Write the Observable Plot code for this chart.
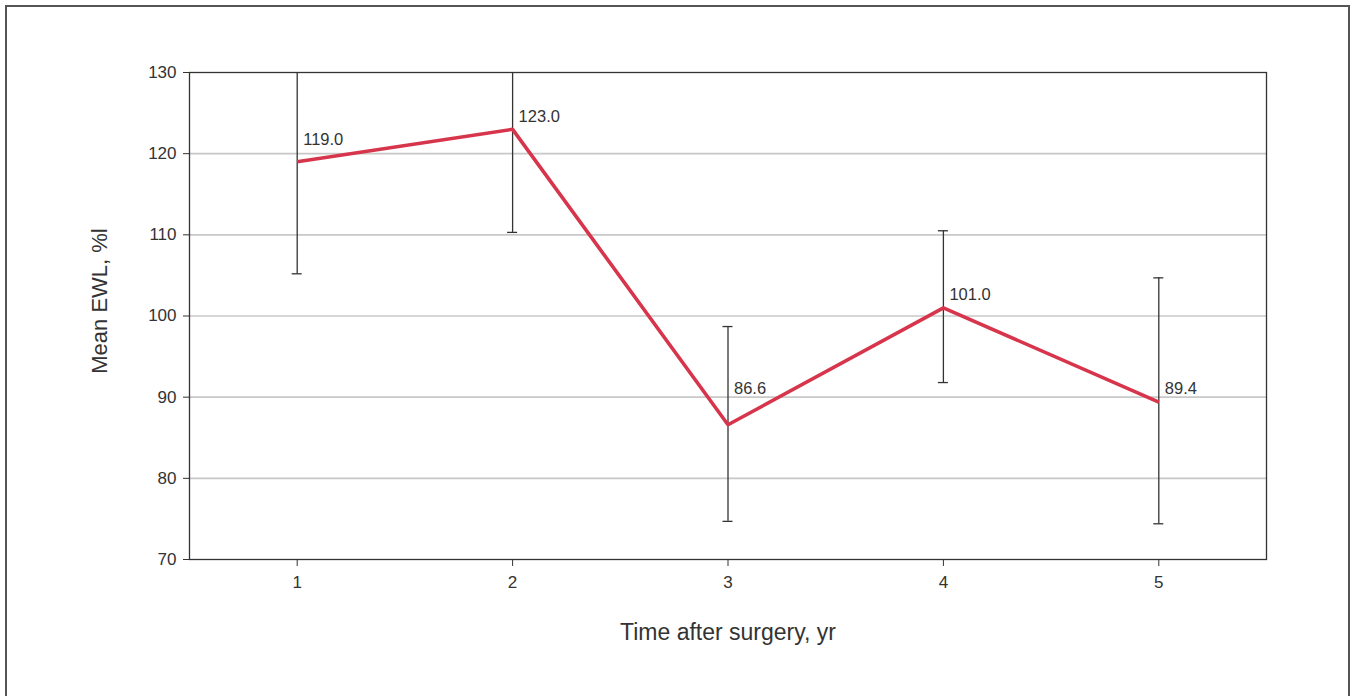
<!DOCTYPE html>
<html>
<head>
<meta charset="utf-8">
<script src="https://cdn.jsdelivr.net/npm/d3@7"></script>
<script src="https://cdn.jsdelivr.net/npm/@observablehq/plot@0.6"></script>
<style>
  html, body { margin: 0; padding: 0; background: #fff; overflow: hidden; }
  #wrap { position: relative; width: 1355px; height: 696px; }
  #outer { position: absolute; left: 5px; top: 5px; width: 1341px; height: 720px; border: 2px solid #555; pointer-events: none; }
  #chart { position: absolute; left: 0; top: 0; }
</style>
</head>
<body>
<div id="wrap">
  <div id="chart"></div>
  <div id="outer"></div>
</div>
<script>
const years = [1, 2, 3, 4, 5];
const means = [119.0, 123.0, 86.6, 101.0, 89.4];
const lows  = [105.2, 110.3, 74.7, 91.8, 74.4];
const highs = [132.8, 135.7, 98.7, 110.5, 104.7];
const yTicks = [70, 80, 90, 100, 110, 120, 130];
const xTicks = [1, 2, 3, 4, 5];
const gridValues = [80, 90, 100, 110, 120];
const xTitle = "Time after surgery, yr";
const yTitle = "Mean EWL, %l";

const data = years.map((year, i) => ({year, mean: means[i], low: lows[i], high: highs[i]}));

const red = "#d7354c";
const ink = "#333";
const font = "'Liberation Sans', Arial, Helvetica, sans-serif";

const labelOpts = {x: "year", y: "mean", text: d => d.mean.toFixed(1), dx: 6, textAnchor: "start", fontSize: 16.5, fill: ink};

const chart = Plot.plot({
  width: 1355,
  height: 696,
  marginLeft: 189,
  marginRight: 89,
  marginTop: 72,
  marginBottom: 137,
  style: {fontFamily: font, color: ink, background: "transparent"},
  x: {type: "linear", domain: [0.5, 5.5]},
  y: {domain: [70, 130]},
  marks: [
    Plot.ruleY(gridValues, {stroke: "#c8c8c8", strokeWidth: 1.6}),
    Plot.axisY({ticks: yTicks, tickSize: 6, tickPadding: 7, fontSize: 17, label: null, tickFormat: d => d}),
    Plot.axisX({ticks: xTicks, tickSize: 7, tickPadding: 9, fontSize: 17, label: null, tickFormat: d => d}),
    Plot.ruleX(data, {x: "year", y1: "low", y2: "high", stroke: ink, strokeWidth: 1.3, clip: true}),
    Plot.ruleY(data, {y: "low", x1: "year", x2: "year", insetLeft: -5, insetRight: -5, stroke: ink, strokeWidth: 1.3, clip: true}),
    Plot.ruleY(data, {y: "high", x1: "year", x2: "year", insetLeft: -5, insetRight: -5, stroke: ink, strokeWidth: 1.3, clip: true}),
    Plot.line(data, {x: "year", y: "mean", stroke: red, strokeWidth: 3.6, strokeLinejoin: "miter", strokeLinecap: "butt"}),
    Plot.text(data, {...labelOpts, filter: d => d.year === 1, dy: -22}),
    Plot.text(data, {...labelOpts, filter: d => d.year === 3, dy: -36}),
    Plot.text(data, {...labelOpts, filter: d => d.year === 2 || d.year === 4 || d.year === 5, dy: -13}),
    Plot.frame({stroke: ink, strokeWidth: 1.3}),
    Plot.text([xTitle], {frameAnchor: "bottom", lineAnchor: "middle", textAnchor: "middle", dy: 73, fontSize: 23, fill: ink}),
    Plot.text([yTitle], {frameAnchor: "left", lineAnchor: "middle", textAnchor: "middle", rotate: -90, dx: -90, dy: -15, fontSize: 22, fill: ink})
  ]
});
document.getElementById("chart").appendChild(chart);
</script>
</body>
</html>
